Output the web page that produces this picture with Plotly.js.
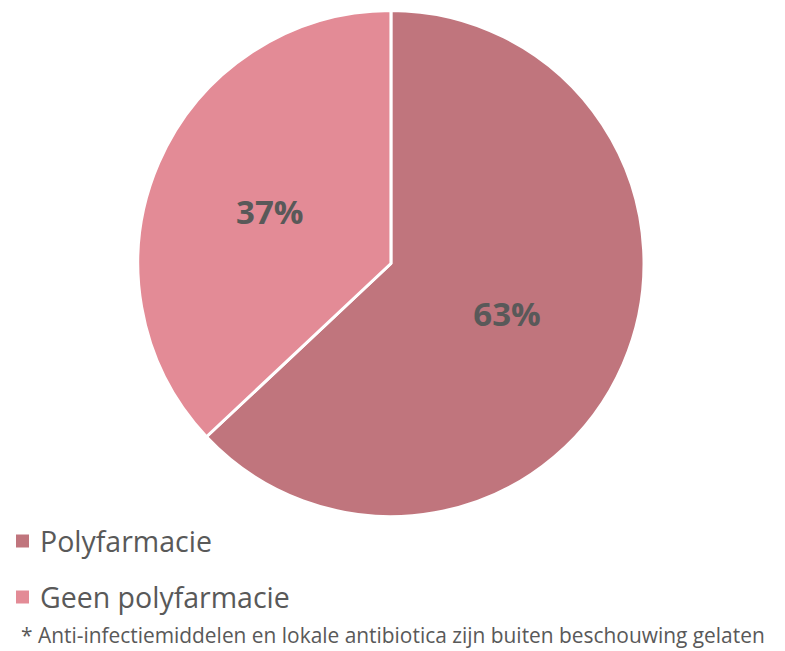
<!DOCTYPE html>
<html><head><meta charset="utf-8">
<script src="https://cdn.plot.ly/plotly-3.0.1.min.js"></script>
<style>html,body{margin:0;padding:0;background:#fff}</style>
</head><body>
<div id="chart" style="width:785px;height:651px"></div>
<script>
const labels = ["Polyfarmacie", "Geen polyfarmacie"];
const values = [63, 37];
const colors = ["#c0757d", "#e38b96"];
const footnote = "* Anti-infectiemiddelen en lokale antibiotica zijn buiten beschouwing gelaten";

const FONT = "'Open Sans', sans-serif";
const W = 785, H = 651;
// legend rows (pixel centres from the top) for the hand-drawn legend
const legendRowsPx = [541, 597];

const shapes = labels.map((l, i) => ({
  type: "rect", xref: "paper", yref: "paper",
  x0: 16 / W, x1: 29 / W,
  y0: 1 - (legendRowsPx[i] + 6.5) / H, y1: 1 - (legendRowsPx[i] - 6.5) / H,
  fillcolor: colors[i], line: {width: 0}
}));
const legendAnn = labels.map((l, i) => ({
  text: l, xref: "paper", yref: "paper", x: 38 / W, y: 1 - legendRowsPx[i] / H,
  xanchor: "left", yanchor: "middle", showarrow: false,
  font: {family: FONT, size: 28.5, color: "#595959"}
}));

Plotly.newPlot("chart", [{
  type: "pie",
  labels: labels,
  values: values,
  sort: false,
  direction: "clockwise",
  rotation: 0,
  marker: {colors: colors, line: {color: "#ffffff", width: 3}},
  textinfo: "percent",
  textposition: "inside",
  insidetextorientation: "horizontal",
  texttemplate: "%{percent:.0%}",
  textfont: {family: FONT, size: 33, color: "#595959", weight: "bold"},
  hoverinfo: "label+percent",
  domain: {x: [0.175, 0.821], y: [0.2065, 0.984]}
}], {
  width: W, height: H,
  margin: {l: 0, r: 0, t: 0, b: 0},
  paper_bgcolor: "#fff",
  showlegend: false,
  shapes: shapes,
  annotations: legendAnn.concat([{
    text: footnote, xref: "paper", yref: "paper", x: 20 / W, y: 1 - 635 / H,
    xanchor: "left", yanchor: "middle", showarrow: false, borderpad: 0,
    font: {family: FONT, size: 20.9, color: "#595959"}
  }])
}, {displayModeBar: false});
</script>
</body></html>
